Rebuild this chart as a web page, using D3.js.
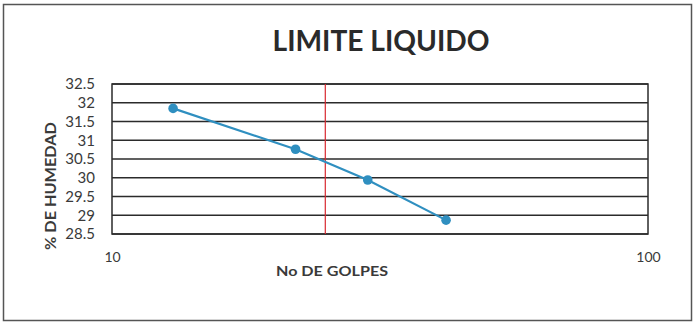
<!DOCTYPE html>
<html>
<head>
<meta charset="utf-8">
<script src="https://cdn.jsdelivr.net/npm/d3@7"></script>
<style>
  html, body { margin: 0; padding: 0; background: #fff; }
  svg { display: block; }
  text { font-family: Lato, "Open Sans", sans-serif; fill: #3a3a3a; }
</style>
</head>
<body>
<svg id="chart" width="695" height="323"></svg>
<script>
// Liquid limit test: number of blows vs. moisture content
const golpes  = [13, 22, 30, 42];
const humedad = [31.85, 30.76, 29.94, 28.87];
const yTicks  = [28.5, 29, 29.5, 30, 30.5, 31, 31.5, 32, 32.5];
const xTicks  = [10, 100];
const golpesReferencia = [25];

const svg = d3.select("#chart");
const plot = { left: 112, right: 648, top: 84, bottom: 234 };

const x = d3.scaleLog().domain([10, 100]).range([plot.left, plot.right]);
const y = d3.scaleLinear().domain([28.5, 32.5]).range([plot.bottom, plot.top]);

// outer frame
svg.append("rect")
  .attr("x", 3.5).attr("y", 4.5).attr("width", 688).attr("height", 316)
  .attr("fill", "none").attr("stroke", "#555").attr("stroke-width", 1.5);

// title
svg.append("text")
  .attr("x", 381).attr("y", 51)
  .attr("text-anchor", "middle")
  .attr("font-size", 28).attr("font-weight", 700)
  .attr("textLength", 217).attr("lengthAdjust", "spacingAndGlyphs")
  .style("fill", "#2a2a2a")
  .text("LIMITE LIQUIDO");

// horizontal gridlines
svg.append("g").selectAll("line").data(yTicks).join("line")
  .attr("x1", plot.left).attr("x2", plot.right)
  .attr("y1", d => y(d)).attr("y2", d => y(d))
  .attr("stroke", "#2b2b2b").attr("stroke-width", 1.3);

// plot border
svg.append("rect")
  .attr("x", plot.left).attr("y", plot.top)
  .attr("width", plot.right - plot.left).attr("height", plot.bottom - plot.top)
  .attr("fill", "none").attr("stroke", "#2b2b2b").attr("stroke-width", 1.5);

// y axis tick labels
const yAxis = d3.axisLeft(y).tickValues(yTicks).tickSize(0).tickPadding(0)
  .tickFormat(d3.format("~g"));
svg.append("g").attr("transform", `translate(95,0)`).call(yAxis)
  .call(g => g.select(".domain").remove())
  .selectAll("text")
  .attr("font-size", 15).attr("font-family", "Lato, 'Open Sans', sans-serif")
  .style("fill", "#3a3a3a");

// x axis tick labels
const xAxis = d3.axisBottom(x).tickValues(xTicks).tickSize(0).tickPadding(0)
  .tickFormat(d3.format("d"));
svg.append("g").attr("transform", `translate(0,252)`).call(xAxis)
  .call(g => g.select(".domain").remove())
  .selectAll("text")
  .attr("font-size", 14).attr("font-family", "Lato, 'Open Sans', sans-serif")
  .style("fill", "#3a3a3a");

// axis titles
svg.append("text")
  .attr("x", 332).attr("y", 276)
  .attr("text-anchor", "middle")
  .attr("font-size", 13).attr("font-weight", 700)
  .attr("textLength", 112).attr("lengthAdjust", "spacingAndGlyphs")
  .text("No DE GOLPES");

svg.append("text")
  .attr("transform", "translate(56,186) rotate(-90)")
  .attr("text-anchor", "middle")
  .attr("font-size", 15).attr("font-weight", 700)
  .attr("textLength", 128).attr("lengthAdjust", "spacingAndGlyphs")
  .text("% DE HUMEDAD");

// reference line at 25 blows
svg.append("g").selectAll("line").data(golpesReferencia).join("line")
  .attr("x1", d => x(d)).attr("x2", d => x(d))
  .attr("y1", plot.top).attr("y2", plot.bottom)
  .attr("stroke", "#d8282f").attr("stroke-width", 1.2);

// flow curve
const pts = golpes.map((g, i) => [g, humedad[i]]);
svg.append("path")
  .datum(pts)
  .attr("d", d3.line().x(d => x(d[0])).y(d => y(d[1])))
  .attr("fill", "none").attr("stroke", "#2f8fc0").attr("stroke-width", 2.2);

svg.append("g").selectAll("circle").data(pts).join("circle")
  .attr("cx", d => x(d[0])).attr("cy", d => y(d[1])).attr("r", 4.8)
  .attr("fill", "#2f8fc0");
</script>
</body>
</html>
